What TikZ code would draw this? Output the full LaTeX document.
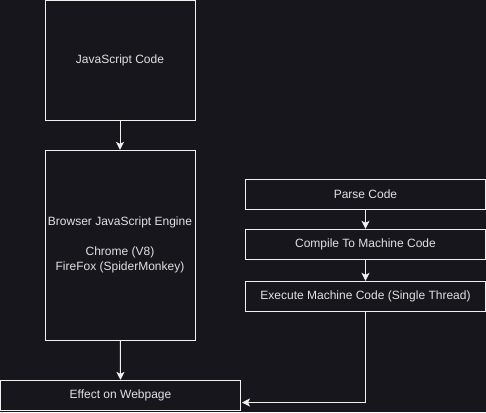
\documentclass[tikz,border=0pt]{standalone}
\usepackage{fontspec}
\setmainfont{Liberation Sans}
\usetikzlibrary{arrows.meta}
\definecolor{bg}{RGB}{24,22,29}
\definecolor{ln}{RGB}{240,240,240}
\definecolor{tx}{RGB}{225,225,225}
\begin{document}
\begin{tikzpicture}[x=1pt,y=-1pt,
  box/.style={draw=ln,line width=1pt,fill=bg,text=tx,align=center,inner sep=0pt,
    font=\fontsize{12}{15}\selectfont},
  conn/.style={draw=ln,line width=1pt,-{Stealth[length=8pt,width=8pt,inset=2pt]}}]
\fill[bg] (0,0) rectangle (486,412);
\useasboundingbox (0,0) rectangle (486,412);
\node[box,minimum width=150pt,minimum height=119pt] (js) at (120,60.5) {JavaScript Code};
\node[box,minimum width=150pt,minimum height=190pt] (br) at (120,245.3) {Browser JavaScript Engine\\[15pt]Chrome (V8)\\FireFox (SpiderMonkey)};
\node[box,minimum width=239.5pt,minimum height=30.5pt] (ef) at (120.5,395.6) {Effect on Webpage};
\node[box,minimum width=240pt,minimum height=30pt] (pc) at (365.5,194.3) {Parse Code};
\node[box,minimum width=240pt,minimum height=30pt] (cc) at (365.5,244.3) {Compile To Machine Code};
\node[box,minimum width=240pt,minimum height=30pt] (ex) at (365.5,296.3) {Execute Machine Code (Single Thread)};
\coordinate (t) at (242,402.5);
\draw[conn] (js) -- (br);
\draw[conn] (br) -- (ef);
\draw[conn] (pc) -- (cc);
\draw[conn] (cc) -- (ex);
\draw[conn] (ex.south) |- (t);
\end{tikzpicture}
\end{document}
